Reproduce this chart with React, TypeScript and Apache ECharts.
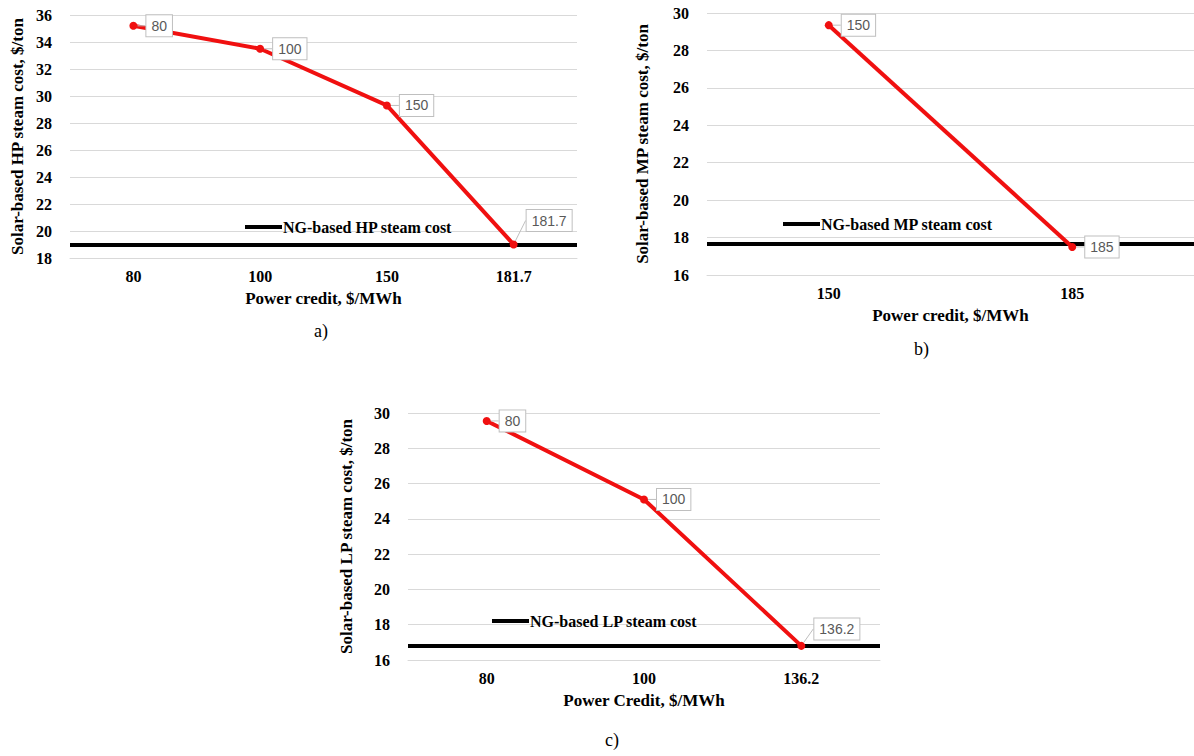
import React, { useEffect, useRef } from "react";
import * as echarts from "echarts";

// Panel a) HP steam
const hpCategories = ["80", "100", "150", "181.7"];
const hpSolarCost = [35.2, 33.5, 29.3, 19.0];
const hpNgCost = 19.0;
// Panel b) MP steam
const mpCategories = ["150", "185"];
const mpSolarCost = [29.35, 17.5];
const mpNgCost = 17.65;
// Panel c) LP steam
const lpCategories = ["80", "100", "136.2"];
const lpSolarCost = [29.55, 25.1, 16.8];
const lpNgCost = 16.8;

const serif = "'Liberation Serif', 'Times New Roman', serif";
const sans = "'Liberation Sans', Arial, sans-serif";

export default function App() {
  const ref = useRef<HTMLDivElement>(null);
  useEffect(() => {
    document.body.style.margin = "0";
    const chart = echarts.init(ref.current!, undefined, { renderer: "svg" });

    const labelBox = {
      show: true,
      formatter: "{b}",
      position: "right",
      distance: 9,
      backgroundColor: "#fff",
      borderColor: "#bfbfbf",
      borderWidth: 1,
      padding: [4, 5, 3, 5],
      color: "#595959",
      fontSize: 14,
      fontFamily: sans,
    };

    const xAxisBase = (gridIndex: number, data: string[], name: string) => ({
      type: "category",
      gridIndex,
      data,
      boundaryGap: true,
      axisLine: { show: true, lineStyle: { color: "#d9d9d9" } },
      axisTick: { show: false },
      axisLabel: { color: "#000", fontWeight: "bold", fontFamily: serif, fontSize: 16, margin: 10 },
      name,
      nameLocation: "middle",
      nameGap: 32,
      nameTextStyle: { color: "#000", fontWeight: "bold", fontFamily: serif, fontSize: 17 },
    });
    const yAxisBase = (gridIndex: number, min: number, max: number, name: string, nameGap: number) => ({
      type: "value",
      gridIndex,
      min,
      max,
      interval: 2,
      axisLine: { show: false },
      axisTick: { show: false },
      splitLine: { show: true, lineStyle: { color: "#d9d9d9", width: 1 } },
      axisLabel: { color: "#000", fontWeight: "bold", fontFamily: serif, fontSize: 16, margin: 18 },
      name,
      nameLocation: "middle",
      nameGap,
      nameTextStyle: { color: "#000", fontWeight: "bold", fontFamily: serif, fontSize: 17 },
    });

    const solarSeries = (idx: number, values: number[], moved: { dx: number; dy: number }) => ({
      type: "line",
      name: "solar" + idx,
      xAxisIndex: idx,
      yAxisIndex: idx,
      data: values,
      z: 5,
      color: "#f01010",
      lineStyle: { color: "#f01010", width: 4 },
      symbol: "circle",
      symbolSize: 8,
      itemStyle: { color: "#f01010" },
      label: labelBox,
      labelLine: { show: true, length2: 0, lineStyle: { color: "#bfbfbf", width: 1 } },
      labelLayout: (p: any) =>
        p.dataIndex === values.length - 1 && (moved.dx !== 0 || moved.dy !== 0)
          ? { dx: moved.dx, dy: moved.dy }
          : {},
    });
    const ngSeries = (idx: number, name: string, value: number) => ({
      type: "line",
      name,
      xAxisIndex: idx,
      yAxisIndex: idx,
      data: [],
      z: 3,
      color: "#000",
      lineStyle: { color: "#000", width: 4 },
      markLine: {
        silent: true,
        symbol: "none",
        label: { show: false },
        lineStyle: { color: "#000", width: 4, type: "solid" },
        data: [{ yAxis: value }],
      },
    });
    const legendBase = (name: string, left: number, top: number) => ({
      data: [{ name, icon: "rect" }],
      left,
      top,
      itemWidth: 37,
      itemHeight: 4,
      selectedMode: false,
      textStyle: { color: "#000", fontWeight: "bold", fontFamily: serif, fontSize: 16, padding: [0, 0, 0, -4] },
    });

    chart.setOption({
      animation: false,
      backgroundColor: "#fff",
      grid: [
        { left: 70, top: 15, width: 507, height: 243 },
        { left: 707, top: 13, width: 487, height: 262 },
        { left: 408, top: 413, width: 472, height: 247 },
      ],
      xAxis: [
        xAxisBase(0, hpCategories, "Power credit, $/MWh"),
        xAxisBase(1, mpCategories, "Power credit, $/MWh"),
        xAxisBase(2, lpCategories, "Power Credit, $/MWh"),
      ],
      yAxis: [
        yAxisBase(0, 18, 36, "Solar-based HP steam cost, $/ton", 44),
        yAxisBase(1, 16, 30, "Solar-based MP steam cost, $/ton", 56),
        yAxisBase(2, 16, 30, "Solar-based LP steam cost, $/ton", 53),
      ],
      legend: [
        legendBase("NG-based HP steam cost", 240, 214),
        legendBase("NG-based MP steam cost", 778, 211),
        legendBase("NG-based LP steam cost", 487, 608),
      ],
      series: [
        ngSeries(0, "NG-based HP steam cost", hpNgCost),
        solarSeries(0, hpSolarCost, { dx: 0, dy: -24 }),
        ngSeries(1, "NG-based MP steam cost", mpNgCost),
        solarSeries(1, mpSolarCost, { dx: 0, dy: 0 }),
        ngSeries(2, "NG-based LP steam cost", lpNgCost),
        solarSeries(2, lpSolarCost, { dx: 0, dy: -17 }),
      ],
      graphic: [
        { type: "text", left: 314, top: 322, style: { text: "a)", font: `18px ${serif}`, fill: "#000" } },
        { type: "text", left: 914, top: 340, style: { text: "b)", font: `18px ${serif}`, fill: "#000" } },
        { type: "text", left: 605, top: 731, style: { text: "c)", font: `18px ${serif}`, fill: "#000" } },
      ],
    });
    return () => chart.dispose();
  }, []);
  return <div ref={ref} style={{ width: 1194, height: 756 }} />;
}
